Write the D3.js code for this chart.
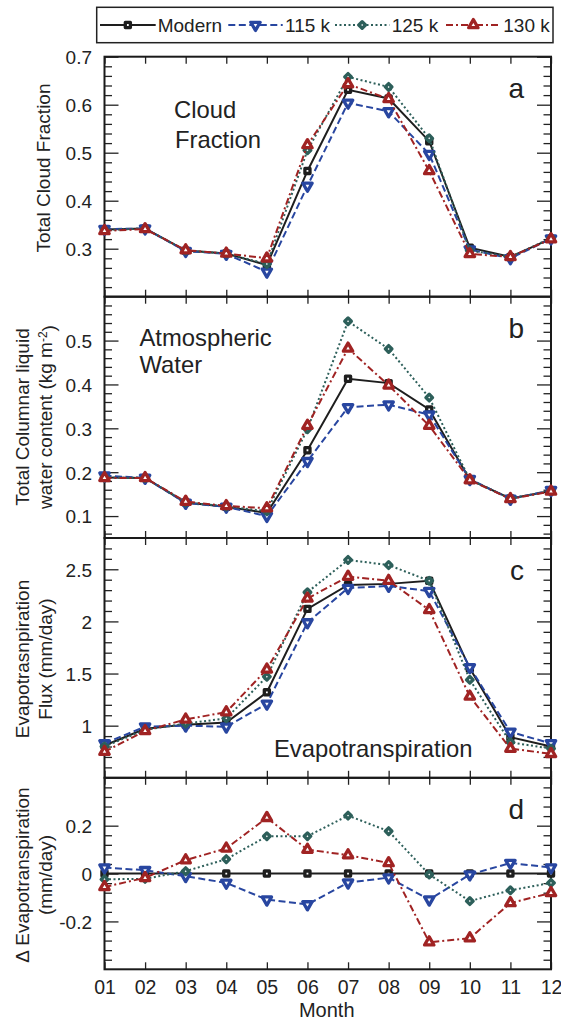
<!DOCTYPE html>
<html>
<head>
<meta charset="utf-8">
<script src="https://cdn.jsdelivr.net/npm/d3@7"></script>
<style>
  html, body { margin: 0; padding: 0; background: #fff; }
  svg { display: block; font-family: "Liberation Sans", Arial, Helvetica, sans-serif; }
</style>
</head>
<body>
<div id="chart"></div>
<script>
// months on the x axis
const months = ["01", "02", "03", "04", "05", "06", "07", "08", "09", "10", "11", "12"];
const seriesNames = ["Modern", "115 k", "125 k", "130 k"];

// a - total cloud fraction
const cloudModern = [0.340, 0.342, 0.296, 0.290, 0.266, 0.462, 0.631, 0.613, 0.524, 0.302, 0.283, 0.321];
const cloud115 = [0.341, 0.342, 0.295, 0.289, 0.252, 0.431, 0.604, 0.586, 0.497, 0.298, 0.280, 0.321];
const cloud125 = [0.339, 0.342, 0.296, 0.290, 0.268, 0.505, 0.658, 0.637, 0.530, 0.296, 0.283, 0.322];
const cloud130 = [0.337, 0.341, 0.297, 0.290, 0.280, 0.516, 0.643, 0.612, 0.462, 0.289, 0.283, 0.320];

// b - total columnar liquid water content (kg m-2)
const waterModern = [0.188, 0.187, 0.131, 0.121, 0.107, 0.250, 0.413, 0.403, 0.343, 0.183, 0.140, 0.157];
const water115 = [0.192, 0.187, 0.130, 0.121, 0.100, 0.225, 0.348, 0.354, 0.331, 0.184, 0.139, 0.159];
const water125 = [0.188, 0.187, 0.131, 0.122, 0.111, 0.298, 0.544, 0.481, 0.370, 0.183, 0.140, 0.157];
const water130 = [0.187, 0.187, 0.133, 0.123, 0.118, 0.306, 0.482, 0.398, 0.306, 0.182, 0.139, 0.156];

// c - evapotranspiration flux (mm/day)
const evapModern = [0.81, 0.97, 1.01, 1.03, 1.32, 2.12, 2.35, 2.36, 2.39, 1.55, 0.89, 0.80];
const evap115 = [0.83, 0.99, 1.00, 0.99, 1.21, 1.99, 2.32, 2.34, 2.29, 1.56, 0.94, 0.83];
const evap125 = [0.80, 0.96, 1.02, 1.07, 1.47, 2.28, 2.59, 2.54, 2.39, 1.44, 0.84, 0.78];
const evap130 = [0.75, 0.95, 1.06, 1.13, 1.54, 2.22, 2.43, 2.39, 2.11, 1.28, 0.78, 0.73];

// d - delta evapotranspiration (mm/day)
const deltaModern = [0, 0, 0, 0, 0, 0, 0, 0, 0, 0, 0, 0];
const delta115 = [0.025, 0.014, -0.011, -0.039, -0.109, -0.129, -0.038, -0.017, -0.109, -0.004, 0.044, 0.025];
const delta125 = [-0.024, -0.022, 0.010, 0.060, 0.156, 0.156, 0.242, 0.177, -0.004, -0.115, -0.070, -0.039];
const delta130 = [-0.056, -0.018, 0.056, 0.105, 0.233, 0.100, 0.077, 0.044, -0.287, -0.270, -0.123, -0.081];

// tick labels
const ticksA = [0.3, 0.4, 0.5, 0.6, 0.7];
const ticksB = [0.1, 0.2, 0.3, 0.4, 0.5];
const ticksC = [1, 1.5, 2, 2.5];
const ticksD = [-0.2, 0, 0.2];

const W = 561, H = 1020;
const left = 104.5, right = 551;
const FONT = 19;

const styles = [
  { color: "#1e1e1e", dash: null, symbol: "square" },
  { color: "#2846a0", dash: "7,3.5", symbol: "down" },
  { color: "#2d5f5a", dash: "2,2.5", symbol: "diamond" },
  { color: "#a02323", dash: "7,3,2,3", symbol: "up" }
];

const panels = [
  { top: 56.7, bottom: 296.7, domain: [0.2, 0.7], major: ticksA, minorStart: 0.22, minorStep: 0.02, letter: "a",
    series: [cloudModern, cloud115, cloud125, cloud130],
    title: [["Total Cloud Fraction"]], titleX: [50], titleY: 168,
    notes: [{ t: "Cloud", x: 174, y: 118.3 }, { t: "Fraction", x: 175, y: 147.7 }] },
  { top: 296.7, bottom: 538, domain: [0.05, 0.6], major: ticksB, minorStart: 0.06, minorStep: 0.02, letter: "b",
    series: [waterModern, water115, water125, water130],
    title: [["Total Columnar liquid"], ["water content (kg m", "-2", ")"]], titleX: [29, 52], titleY: 417,
    notes: [{ t: "Atmospheric", x: 139.5, y: 346 }, { t: "Water", x: 139.5, y: 373.3 }] },
  { top: 538, bottom: 777.8, domain: [0.5, 2.8], major: ticksC, minorStart: 0.6, minorStep: 0.1, letter: "c",
    series: [evapModern, evap115, evap125, evap130],
    title: [["Evapotrasnpiration"], ["Flux (mm/day)"]], titleX: [29, 52], titleY: 659,
    notes: [{ t: "Evapotranspiration", x: 274, y: 756.7 }] },
  { top: 777.8, bottom: 969.3, domain: [-0.4, 0.4], major: ticksD, minorStart: -0.36, minorStep: 0.04, letter: "d",
    series: [deltaModern, delta115, delta125, delta130],
    title: [["\u0394 Evapotranspiration"], ["(mm/day)"]], titleX: [29, 52], titleY: 875,
    notes: [] }
];

const svg = d3.select("#chart").append("svg")
  .attr("width", W).attr("height", H)
  .attr("viewBox", `0 0 ${W} ${H}`);

const x = d3.scalePoint().domain(months).range([left, right]).padding(0);

// thick-edged hollow markers, the hole is tiny like in the original
function markerPath(kind) {
  if (kind === "square") return d3.symbol(d3.symbolSquare, 26)();
  if (kind === "diamond") return d3.symbol(d3.symbolSquare, 22)();
  return d3.symbol(d3.symbolTriangle, 38)();
}
function markerRotate(kind) {
  if (kind === "down") return 180;
  if (kind === "diamond") return 45;
  return 0;
}
const MARK_W = 3.3;

function fmt(v) {
  return String(+v.toFixed(2));
}

panels.forEach((p, pi) => {
  const y = d3.scaleLinear().domain(p.domain).range([p.bottom, p.top]);
  const g = svg.append("g");
  const minors = d3.range(p.minorStart, p.domain[1] - 1e-6, p.minorStep)
    .filter(v => !p.major.some(m => Math.abs(m - v) < 1e-6));

  // y ticks, left + right, inward
  const axMinL = g.append("g").attr("transform", `translate(${left},0)`)
    .call(d3.axisLeft(y).tickValues(minors).tickSize(-7.5).tickFormat(""));
  const axMajL = g.append("g").attr("transform", `translate(${left},0)`)
    .call(d3.axisLeft(y).tickValues(p.major).tickSize(-14).tickPadding(12.5).tickFormat(fmt));
  const axMinR = g.append("g").attr("transform", `translate(${right},0)`)
    .call(d3.axisRight(y).tickValues(minors).tickSize(-7.5).tickFormat(""));
  const axMajR = g.append("g").attr("transform", `translate(${right},0)`)
    .call(d3.axisRight(y).tickValues(p.major).tickSize(-14).tickFormat(""));

  // x ticks top + bottom, inward
  const axTop = g.append("g").attr("transform", `translate(0,${p.top})`)
    .call(d3.axisTop(x).tickSize(-7).tickFormat(""));
  const axBot = g.append("g").attr("transform", `translate(0,${p.bottom})`)
    .call(d3.axisBottom(x).tickSize(-7).tickPadding(11)
      .tickFormat(pi === panels.length - 1 ? (d => d) : ""));

  [axMinL, axMajL, axMinR, axMajR, axTop, axBot].forEach(a => {
    a.select(".domain").remove();
    a.selectAll(".tick line").attr("stroke", "#222").attr("stroke-width", 1.3);
    a.selectAll("text").attr("fill", "#222").style("font-size", FONT + "px").style("font-family", null);
  });
  axMajL.selectAll("text").attr("dy", "0.36em");
  axBot.selectAll("text").style("font-size", "19.5px");

  // frame
  g.append("rect")
    .attr("x", left).attr("y", p.top)
    .attr("width", right - left).attr("height", p.bottom - p.top)
    .attr("fill", "none").attr("stroke", "#1a1a1a").attr("stroke-width", 2);

  // series
  const line = d3.line().x((d, i) => x(months[i])).y(d => y(d));
  p.series.forEach((vals, si) => {
    const st = styles[si];
    g.append("path")
      .datum(vals)
      .attr("d", line)
      .attr("fill", "none")
      .attr("stroke", st.color)
      .attr("stroke-width", 2)
      .attr("stroke-dasharray", st.dash);
    g.append("g").selectAll("path")
      .data(vals)
      .join("path")
      .attr("d", markerPath(st.symbol))
      .attr("transform", (d, i) => `translate(${x(months[i])},${y(d)}) rotate(${markerRotate(st.symbol)})`)
      .attr("fill", "#fff")
      .attr("stroke", st.color)
      .attr("stroke-width", MARK_W)
      .attr("stroke-linejoin", "round");
  });

  // panel letter
  g.append("text")
    .attr("x", 524).attr("y", p.top + 41.5)
    .attr("text-anchor", "end")
    .attr("fill", "#222")
    .style("font-size", "28px")
    .text(p.letter);

  // annotations
  p.notes.forEach(n => {
    g.append("text")
      .attr("x", n.x).attr("y", n.y)
      .attr("fill", "#222")
      .style("font-size", "23.8px")
      .text(n.t);
  });

  // y title
  p.title.forEach((parts, li) => {
    const t = g.append("text")
      .attr("transform", `translate(${p.titleX[li]},${p.titleY}) rotate(-90)`)
      .attr("text-anchor", "middle")
      .attr("fill", "#222")
      .style("font-size", FONT + "px");
    t.append("tspan").text(parts[0]);
    if (parts.length > 1) {
      t.append("tspan").attr("dy", "-0.45em").style("font-size", "12px").text(parts[1]);
      t.append("tspan").attr("dy", "0.45em").text(parts[2]);
    }
  });
});

// x title
svg.append("text")
  .attr("x", (left + right) / 2 - 1).attr("y", 1016.5)
  .attr("text-anchor", "middle")
  .attr("fill", "#222")
  .style("font-size", "20px")
  .text("Month");

// legend
const legendPos = [
  { x1: 100, x2: 155.7, tx: 157.7 },
  { x1: 228.3, x2: 282.7, tx: 285 },
  { x1: 335, x2: 389.3, tx: 391.7 },
  { x1: 446, x2: 500.7, tx: 503.3 }
];
const lg = svg.append("g");
lg.append("rect")
  .attr("x", 96.7).attr("y", 7.3)
  .attr("width", 456.3).attr("height", 35.4)
  .attr("fill", "#fff").attr("stroke", "#222").attr("stroke-width", 1.5);
seriesNames.forEach((name, i) => {
  const st = styles[i], lp = legendPos[i];
  const cy = 25;
  lg.append("line")
    .attr("x1", lp.x1).attr("x2", lp.x2).attr("y1", cy).attr("y2", cy)
    .attr("stroke", st.color).attr("stroke-width", 2)
    .attr("stroke-dasharray", st.dash);
  lg.append("path")
    .attr("d", markerPath(st.symbol))
    .attr("transform", `translate(${(lp.x1 + lp.x2) / 2},${cy}) rotate(${markerRotate(st.symbol)})`)
    .attr("fill", "#fff").attr("stroke", st.color).attr("stroke-width", MARK_W)
    .attr("stroke-linejoin", "round");
  lg.append("text")
    .attr("x", lp.tx).attr("y", 31.7)
    .attr("fill", "#222")
    .style("font-size", FONT + "px")
    .text(name);
});
</script>
</body>
</html>
